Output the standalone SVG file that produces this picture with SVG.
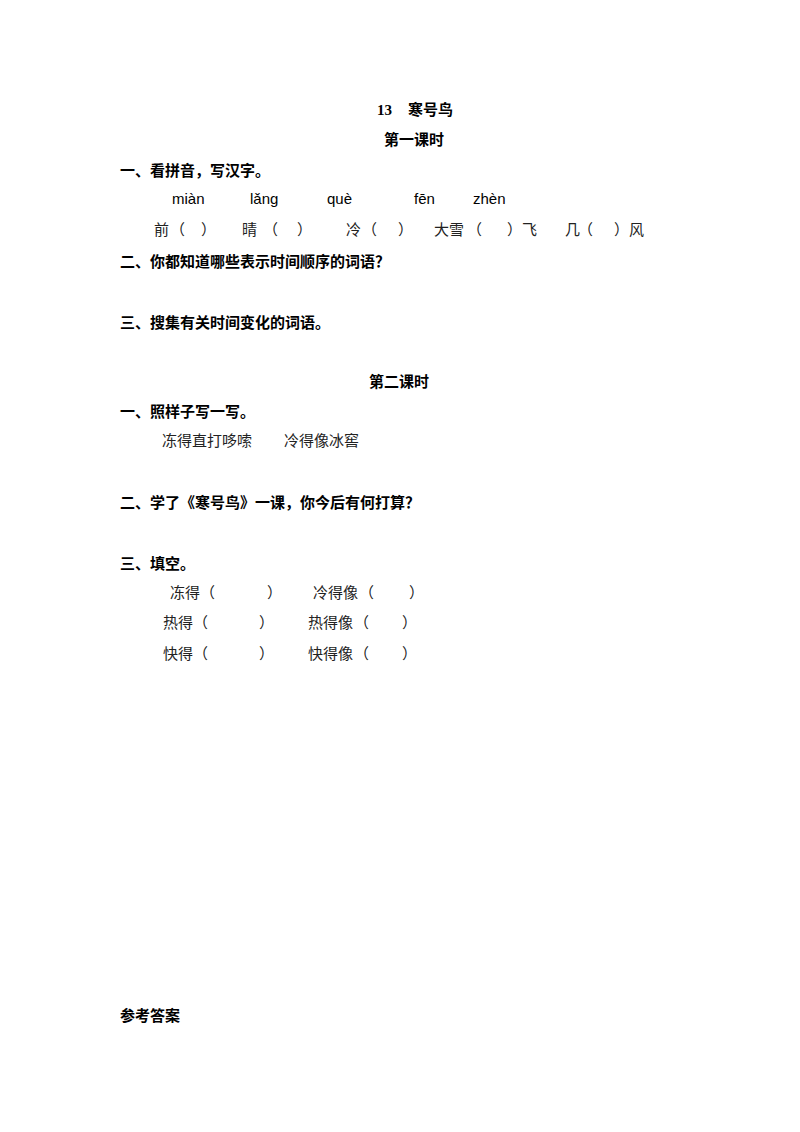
<svg xmlns="http://www.w3.org/2000/svg" width="800" height="1132" viewBox="0 0 800 1132">
<style>
text{font-family:"Liberation Serif","Noto Sans CJK SC",serif;font-size:15px;fill:#222}
.b{font-weight:bold;fill:#000}
.p{font-family:"Liberation Sans","Noto Sans",sans-serif;fill:#000}
</style>
<rect width="800" height="1132" fill="#fff"/>
<text class="b" x="377" y="115">13</text>
<text class="b" x="408" y="115">寒号鸟</text>
<text class="b" x="384" y="145">第一课时</text>
<text class="b" x="120" y="176">一、看拼音，写汉字。</text>
<text class="p" x="172" y="204">miàn</text>
<text class="p" x="250" y="204">lǎng</text>
<text class="p" x="327" y="204">què</text>
<text class="p" x="414" y="204">fēn</text>
<text class="p" x="473" y="204">zhèn</text>
<g>
<text x="154" y="235">前</text><text x="170" y="235">（</text><text x="201" y="235">）</text>
<text x="242" y="235">晴</text><text x="263" y="235">（</text><text x="297" y="235">）</text>
<text x="346" y="235">冷</text><text x="362" y="235">（</text><text x="398" y="235">）</text>
<text x="434" y="235">大雪</text><text x="467" y="235">（</text><text x="507" y="235">）飞</text>
<text x="565" y="235">几</text><text x="578" y="235">（</text><text x="614" y="235">）风</text>
</g>
<text class="b" x="120" y="267">二、你都知道哪些表示时间顺序的词语？</text>
<text class="b" x="120" y="328">三、搜集有关时间变化的词语。</text>
<text class="b" x="369" y="387">第二课时</text>
<text class="b" x="120" y="417">一、照样子写一写。</text>
<text x="162" y="446">冻得直打哆嗦</text>
<text x="284" y="446">冷得像冰窖</text>
<text class="b" x="120" y="508">二、学了《寒号鸟》一课，你今后有何打算？</text>
<text class="b" x="120" y="569">三、填空。</text>
<g>
<text x="170" y="598">冻得</text><text x="200" y="598">（</text><text x="267" y="598">）</text>
<text x="313" y="598">冷得像</text><text x="359" y="598">（</text><text x="409" y="598">）</text>
<text x="163" y="628">热得</text><text x="193" y="628">（</text><text x="259" y="628">）</text>
<text x="308" y="628">热得像</text><text x="354" y="628">（</text><text x="402" y="628">）</text>
<text x="163" y="659">快得</text><text x="193" y="659">（</text><text x="259" y="659">）</text>
<text x="308" y="659">快得像</text><text x="354" y="659">（</text><text x="402" y="659">）</text>
</g>
<text class="b" x="120" y="1021">参考答案</text>
</svg>
